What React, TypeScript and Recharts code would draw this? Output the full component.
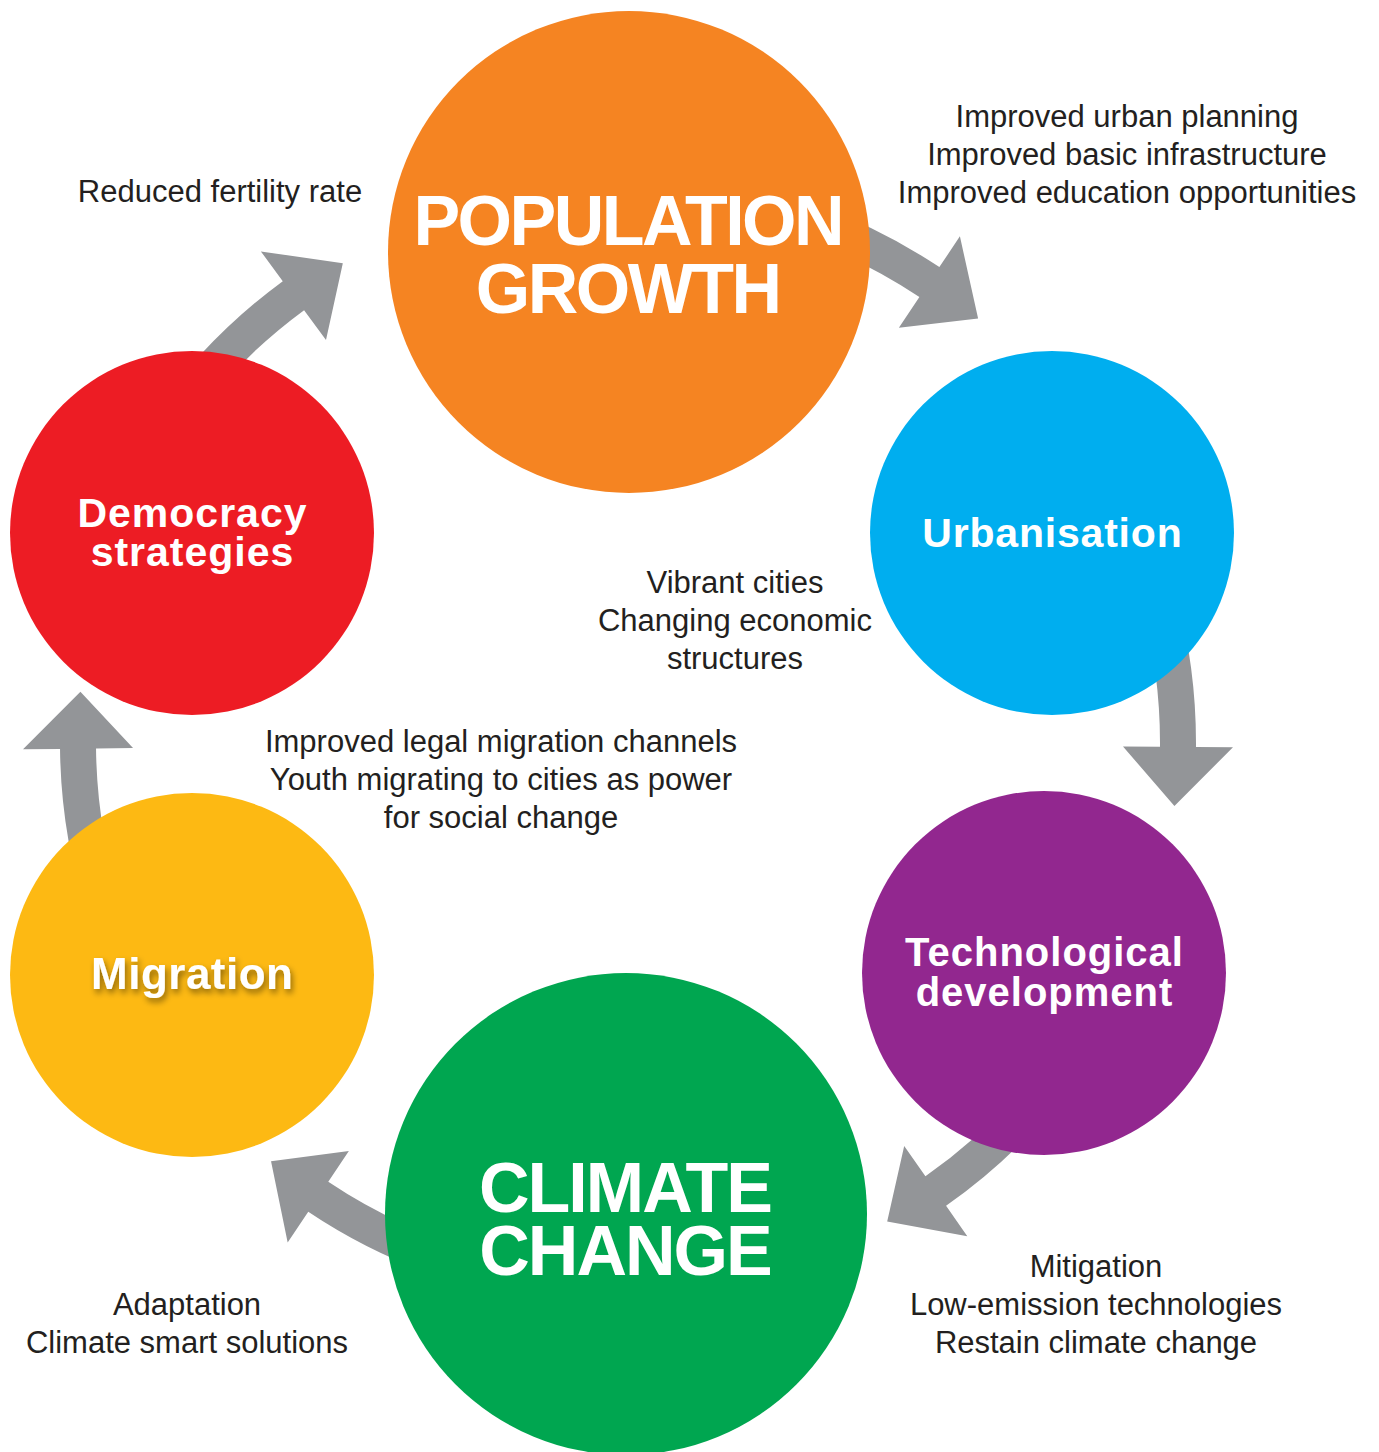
import { ScatterChart, Scatter, XAxis, YAxis } from 'recharts';

const CHART_W = 1379;
const CHART_H = 1452;
// one data unit == one pixel, kept explicit so radii go through the same factor
const K = CHART_W / CHART_W;

const FONT = '"Liberation Sans", Arial, Helvetica, sans-serif';

// ---- cycle nodes ----
const NODE_NAMES = ['Population growth', 'Urbanisation', 'Technological development', 'Climate change', 'Migration', 'Democracy strategies'];
const NODE_X = [629, 1052, 1044, 626, 192, 192];
const NODE_Y = [252, 533, 973, 1214, 975, 533];
const NODE_R = [241, 182, 182, 241, 182, 182];
const NODE_TITLES = [
  ['POPULATION', 'GROWTH'],
  ['Urbanisation'],
  ['Technological', 'development'],
  ['CLIMATE', 'CHANGE'],
  ['Migration'],
  ['Democracy', 'strategies'],
];

// ---- arrows between nodes (angles on a ring around the cycle, degrees, clockwise) ----
const RING_X = 622;
const RING_Y = 743;
const ARROW_RADIUS = [554, 556, 547, 546, 544, 555];
const ARROW_START = [-70, -15, 42, 105, 162, 215];
const ARROW_BASE = [-56.3, 0.4, 55, 123.8, 179.4, 233.7];
const ARROW_TIP = [-50, 6.5, 61, 130, 185.4, 239.8];

// ---- annotations ----
const NOTE_X = [1127, 220, 735, 501, 1096, 187];
const NOTE_Y = [116, 191, 582, 741, 1266, 1304];
const NOTE_LINES = [
  ['Improved urban planning', 'Improved basic infrastructure', 'Improved education opportunities'],
  ['Reduced fertility rate'],
  ['Vibrant cities', 'Changing economic', 'structures'],
  ['Improved legal migration channels', 'Youth migrating to cities as power', 'for social change'],
  ['Mitigation', 'Low-emission technologies', 'Restain climate change'],
  ['Adaptation', 'Climate smart solutions'],
];

const nodeData = NODE_NAMES.map((name, i) => ({ name, x: NODE_X[i], y: NODE_Y[i], r: NODE_R[i], title: NODE_TITLES[i] }));
const arrowData = ARROW_START.map((s, i) => ({
  x: RING_X,
  y: RING_Y,
  r: ARROW_RADIUS[i],
  start: s,
  base: ARROW_BASE[i],
  tip: ARROW_TIP[i],
}));
const noteData = NOTE_LINES.map((lines, i) => ({ x: NOTE_X[i], y: NOTE_Y[i], lines }));

const NODE_STYLE: Record<string, { fill: string; size: number; ls: number; gap: number; cap: number; dy: number; shadow?: boolean }> = {
  'Population growth': { fill: '#f58422', size: 70, ls: -2.5, gap: 68, cap: 50, dy: 2 },
  Urbanisation: { fill: '#00aeef', size: 41, ls: 0.8, gap: 40, cap: 29, dy: -1 },
  'Technological development': { fill: '#92278f', size: 40, ls: 1, gap: 40, cap: 28, dy: -1 },
  'Climate change': { fill: '#00a650', size: 70, ls: -2, gap: 63, cap: 50, dy: 4 },
  Migration: { fill: '#fdb913', size: 44, ls: 0.5, gap: 40, cap: 31, dy: -2, shadow: true },
  'Democracy strategies': { fill: '#ed1c24', size: 41, ls: 1, gap: 39, cap: 29, dy: -1 },
};

const ARROW_COLOR = '#939598';
const SHAFT = 18;
const HEAD = 55;

function ArrowShape(props: any) {
  const { cx, cy, payload } = props;
  const R = payload.r * K;
  const pt = (rad: number, deg: number) => {
    const a = (deg * Math.PI) / 180;
    return `${cx + rad * Math.cos(a)} ${cy + rad * Math.sin(a)}`;
  };
  const ro = R + SHAFT;
  const ri = R - SHAFT;
  const d = [
    `M ${pt(ro, payload.start)}`,
    `A ${ro} ${ro} 0 0 1 ${pt(ro, payload.base)}`,
    `L ${pt(R + HEAD, payload.base)}`,
    `L ${pt(R, payload.tip)}`,
    `L ${pt(R - HEAD, payload.base)}`,
    `L ${pt(ri, payload.base)}`,
    `A ${ri} ${ri} 0 0 0 ${pt(ri, payload.start)}`,
    'Z',
  ].join(' ');
  return <path d={d} fill={ARROW_COLOR} />;
}

function NodeShape(props: any) {
  const { cx, cy, payload } = props;
  const st = NODE_STYLE[payload.name];
  const n = payload.title.length;
  const first = cy - ((n - 1) * st.gap) / 2 + st.cap / 2 + st.dy;
  const tx = cx + st.ls / 2;
  return (
    <g>
      {st.shadow && (
        <defs>
          <filter id="titleShadow" x="-20%" y="-40%" width="140%" height="180%">
            <feDropShadow dx="2" dy="4" stdDeviation="3" floodColor="#000" floodOpacity="0.45" />
          </filter>
        </defs>
      )}
      <circle cx={cx} cy={cy} r={payload.r * K} fill={st.fill} />
      {payload.title.map((t: string, i: number) => (
        <text
          key={i}
          x={tx}
          y={first + i * st.gap}
          textAnchor="middle"
          fill="#ffffff"
          fontFamily={FONT}
          fontWeight={700}
          fontSize={st.size}
          letterSpacing={st.ls}
          filter={st.shadow ? 'url(#titleShadow)' : undefined}
        >
          {t}
        </text>
      ))}
    </g>
  );
}

function NoteShape(props: any) {
  const { cx, cy, payload } = props;
  return (
    <g>
      {payload.lines.map((l: string, i: number) => (
        <text key={i} x={cx} y={cy + i * 38 + 11} textAnchor="middle" fill="#231f20" fontFamily={FONT} fontSize={31}>
          {l}
        </text>
      ))}
    </g>
  );
}

export default function App() {
  return (
    <div style={{ width: CHART_W, height: CHART_H, background: '#fff' }}>
      <style>{'body{margin:0;}'}</style>
      <ScatterChart width={CHART_W} height={CHART_H} margin={{ top: 0, right: 0, bottom: 0, left: 0 }}>
        <XAxis type="number" dataKey="x" domain={[0, CHART_W]} allowDataOverflow hide />
        <YAxis type="number" dataKey="y" domain={[0, CHART_H]} allowDataOverflow reversed hide />
        <Scatter data={arrowData} shape={ArrowShape} isAnimationActive={false} />
        <Scatter data={nodeData} shape={NodeShape} isAnimationActive={false} />
        <Scatter data={noteData} shape={NoteShape} isAnimationActive={false} />
      </ScatterChart>
    </div>
  );
}
